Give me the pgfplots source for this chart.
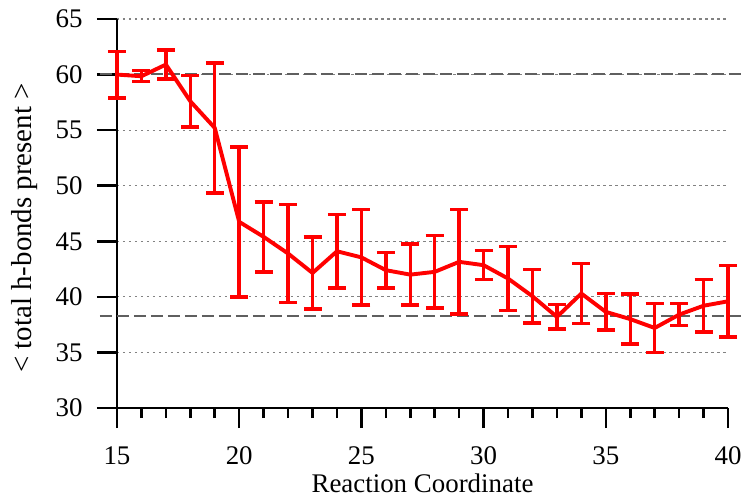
\documentclass[border=0pt]{standalone}
\usepackage{pgfplots}
\pgfplotsset{compat=1.18}
\usepackage{pgfplotstable}
\usepackage{fontspec}
\setmainfont{Liberation Serif}
\definecolor{refgray}{RGB}{95,95,95}
\definecolor{gridgray}{RGB}{130,130,130}
\pgfplotstableread{
x y e
15 60.0 2.1
16 59.85 0.5
17 60.9 1.3
18 57.6 2.3
19 55.2 5.85
20 46.75 6.75
21 45.4 3.15
22 43.9 4.4
23 42.15 3.25
24 44.1 3.3
25 43.55 4.3
26 42.4 1.6
27 42.0 2.75
28 42.25 3.25
29 43.15 4.7
30 42.85 1.3
31 41.65 2.9
32 40.05 2.4
33 38.2 1.1
34 40.3 2.7
35 38.65 1.65
36 38.0 2.25
37 37.2 2.2
38 38.4 1.0
39 39.2 2.35
40 39.6 3.2
}\datatable
\begin{document}
\begin{tikzpicture}
\path[use as bounding box] (-117bp,-91bp) rectangle (627bp,408bp);
\begin{axis}[
  scale only axis,
  width=611bp, height=389bp,
  xmin=15, xmax=40, ymin=30, ymax=65,
  axis x line=bottom, axis y line=left,
  axis line style={-, line width=2.6bp, black},
  every tick/.style={black, line width=2.6bp},
  tick align=outside,
  major tick length=20bp, minor tick length=10bp,
  xtick={15,20,...,40}, minor x tick num=4,
  ytick={30,35,...,65},
  ymajorgrids,
  major grid style={gridgray, line width=1.2bp, dash pattern=on 2.5bp off 3.5bp},
  tick label style={font=\fontsize{27}{30}\selectfont},
  yticklabel style={xshift=-11bp},
  xticklabel style={yshift=-15bp},
  /pgf/number format/assume math mode=true,
  clip=false,
  xlabel={Reaction Coordinate},
  ylabel={< total h-bonds present >},
  xlabel style={font=\fontsize{27}{30}\selectfont, at={(rel axis cs:0.5,0)}, anchor=base, yshift=-84bp},
  ylabel style={font=\fontsize{29}{32}\selectfont, at={(axis description cs:-0.152,0.463)}, anchor=center},
]
\addplot[refgray, line width=2.4bp, dash pattern=on 12bp off 5bp, forget plot] coordinates {(14.3,60.05) (40.66,60.05)};
\addplot[refgray, line width=2.4bp, dash pattern=on 12bp off 5bp, forget plot] coordinates {(14.3,38.3) (40.66,38.3)};
\addplot[red, line width=3.9bp, mark=none,
  error bars/.cd, y dir=both, y explicit,
  error bar style={red, line width=3.4bp},
  error mark options={red, mark size=9bp, line width=3.4bp, rotate=90}]
  table[x=x, y=y, y error=e] {\datatable};
\end{axis}
\end{tikzpicture}
\end{document}
